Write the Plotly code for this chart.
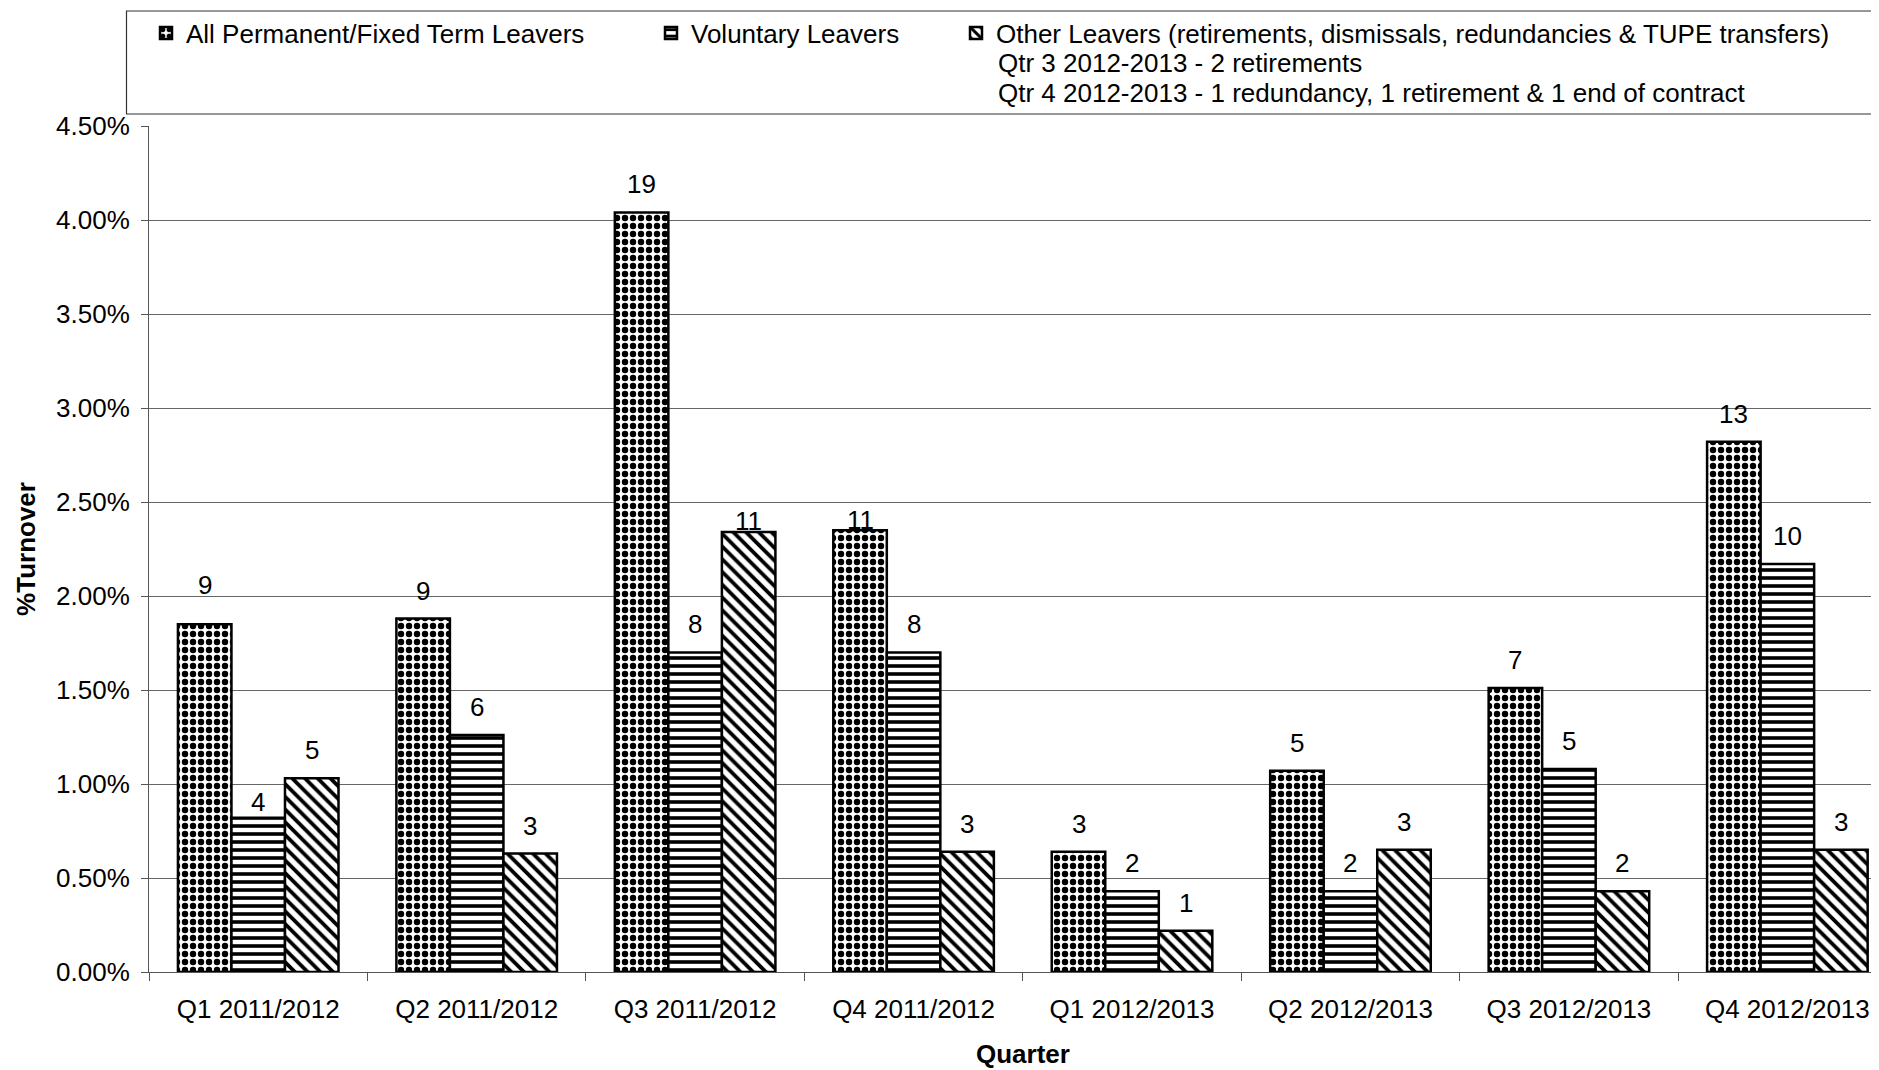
import plotly.graph_objects as go

categories = ["Q1 2011/2012", "Q2 2011/2012", "Q3 2011/2012", "Q4 2011/2012",
              "Q1 2012/2013", "Q2 2012/2013", "Q3 2012/2013", "Q4 2012/2013"]
all_leavers = [1.85, 1.88, 4.04, 2.35, 0.64, 1.07, 1.51, 2.82]
voluntary = [0.82, 1.26, 1.70, 1.70, 0.43, 0.43, 1.08, 2.17]
other = [1.03, 0.63, 2.34, 0.64, 0.22, 0.65, 0.43, 0.65]
all_counts = [9, 9, 19, 11, 3, 5, 7, 13]
vol_counts = [4, 6, 8, 8, 2, 2, 5, 10]
other_counts = [5, 3, 11, 3, 1, 3, 2, 3]

names = ["All Permanent/Fixed Term Leavers", "Voluntary Leavers",
         "Other Leavers (retirements, dismissals, redundancies & TUPE transfers)"]
note_lines = ["Qtr 3 2012-2013 - 2 retirements",
              "Qtr 4 2012-2013 - 1 redundancy, 1 retirement & 1 end of contract"]
y_ticks = [0, 0.5, 1.0, 1.5, 2.0, 2.5, 3.0, 3.5, 4.0, 4.5]

FONT = "Liberation Sans, Arial, sans-serif"
FS = 26
BODY = 8                       # default page margin around the plot div
W, H = 1879 - BODY, 1070 - BODY
ML, MT, MB = 149 - BODY, 126 - BODY, 98
BARGAP = 0.265

series = [all_leavers, voluntary, other]
counts = [all_counts, vol_counts, other_counts]
patterns = [dict(shape=".", size=8, solidity=0.5),
            dict(shape="-", size=8, solidity=0.45),
            dict(shape="\\", size=9, solidity=0.42)]
legends = ["legend", "legend2", "legend3"]

fig = go.Figure()
for k in range(3):
    pat = dict(patterns[k], fgcolor="black", bgcolor="white", fillmode="replace")
    fig.add_trace(go.Bar(
        x=categories, y=series[k], name=names[k], legend=legends[k],
        showlegend=True,
        marker=dict(color="white", pattern=pat, line=dict(color="black", width=2.5)),
        hoverinfo="skip"))

# label offsets (pixels above bar top), default plus a few manually placed ones
default_shift = 28
shift_override = {(0, 0): 39, (1, 0): 16, (2, 2): 11, (0, 3): 10}
bw = (1 - BARGAP) / 3
for k in range(3):
    for i, v in enumerate(series[k]):
        fig.add_annotation(x=i + (k - 1) * bw, y=v, xref="x", yref="y",
                           text=str(counts[k][i]), showarrow=False,
                           yanchor="middle", yshift=shift_override.get((k, i), default_shift),
                           font=dict(family=FONT, size=FS, color="black"))

pw = W - ML
ph = H - MT - MB
def px(xp):
    return (xp - BODY - ML) / pw
def py(yp):
    return (BODY + H - MB - yp) / ph

# legend frame
fig.add_shape(type="rect", xref="paper", yref="paper",
              x0=px(126.5), x1=px(1900), y0=py(114), y1=py(11),
              line=dict(color="#333333", width=1.2), fillcolor="rgba(0,0,0,0)")

for j, t in enumerate(note_lines):
    fig.add_annotation(x=px(996), y=py(63 + 30 * j), xref="paper", yref="paper",
                       text=t, showarrow=False, xanchor="left", yanchor="middle",
                       font=dict(family=FONT, size=FS, color="black"))

# x axis title (centred on the full plot, which extends beyond the crop)
fig.add_annotation(x=px(1023), y=py(1054), xref="paper", yref="paper",
                   text="<b>Quarter</b>", showarrow=False, xanchor="center", yanchor="middle",
                   font=dict(family=FONT, size=FS, color="black"))

legend_common = dict(orientation="h", font=dict(family=FONT, size=FS, color="black"),
                     bgcolor="rgba(0,0,0,0)", borderwidth=0, yanchor="middle",
                     xanchor="left", itemclick=False, itemdoubleclick=False)
fig.update_layout(
    showlegend=True,
    legend=dict(legend_common, x=px(146), y=py(33)),
    legend2=dict(legend_common, x=px(651), y=py(33)),
    legend3=dict(legend_common, x=px(956), y=py(33)),
)

cat_w = 218.45
fig.update_layout(
    width=W, height=H, autosize=False,
    margin=dict(l=ML, r=0, t=MT, b=MB, pad=0),
    paper_bgcolor="white", plot_bgcolor="white",
    barmode="group", bargap=BARGAP, bargroupgap=0,
    font=dict(family=FONT, size=FS, color="black"),
    xaxis=dict(type="category", categoryorder="array", categoryarray=categories,
               range=[-0.5, -0.5 + pw / cat_w], tickson="boundaries",
               ticks="outside", ticklen=8, tickcolor="#555555", tickwidth=1,
               showline=True, linecolor="#555555", linewidth=1, showgrid=False,
               ticklabelstandoff=14,
               tickfont=dict(family=FONT, size=FS, color="black"), fixedrange=True),
    yaxis=dict(range=[0, 4.5], tickmode="array", tickvals=y_ticks,
               ticktext=[f"{v:.2f}%" for v in y_ticks],
               ticks="outside", ticklen=7, tickcolor="#555555", tickwidth=1,
               showline=True, linecolor="#555555", linewidth=1,
               showgrid=True, gridcolor="#666666", gridwidth=1, zeroline=False,
               ticklabelstandoff=6,
               tickfont=dict(family=FONT, size=FS, color="black"),
               title=dict(text="<b>%Turnover</b>", standoff=12,
                          font=dict(family=FONT, size=FS, color="black")),
               fixedrange=True),
)

fig.write_html("out.html", config={"displayModeBar": False})
